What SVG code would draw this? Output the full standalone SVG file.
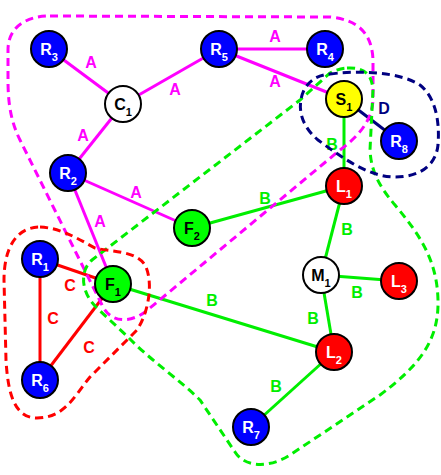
<svg xmlns="http://www.w3.org/2000/svg" width="441" height="475" viewBox="0 0 441 475">
  <style>
    text { font-family: "Liberation Sans", Arial, sans-serif; font-weight: bold; text-anchor: middle; }
    .lbl { font-size: 16px; }
    .sub { font-size: 11px; }
    .node circle { stroke: #000; stroke-width: 2; }
    .blue circle { fill: #0000ff; }
    .red circle { fill: #ff0000; }
    .green circle { fill: #00ff00; }
    .yellow circle { fill: #ffff00; }
    .white circle { fill: #ffffff; }
    .blue text, .red text { fill: #ffffff; }
    .green text, .yellow text, .white text { fill: #000000; }
    .edge { stroke-width: 3; fill: none; }
    .ea { stroke: #ff00ff; }
    .eb { stroke: #00ee00; }
    .ec { stroke: #ff0000; }
    .ed { stroke: #000080; }
    .hull { fill: none; stroke-width: 3; stroke-dasharray: 8 5; }
    .ta { fill: #ff00ff; }
    .tb { fill: #00ee00; }
    .tc { fill: #ff0000; }
    .td { fill: #000080; }
  </style>

  <!-- connectors -->
  <g id="connectors">
    <line class="edge ea" x1="49" y1="49" x2="123" y2="104"/>
    <line class="edge ea" x1="123" y1="104" x2="219" y2="49"/>
    <line class="edge ea" x1="123" y1="104" x2="68" y2="173"/>
    <line class="edge ea" x1="219" y1="49" x2="325" y2="49"/>
    <line class="edge ea" x1="219" y1="49" x2="344" y2="99"/>
    <line class="edge ea" x1="68" y1="173" x2="192" y2="228"/>
    <line class="edge ea" x1="68" y1="173" x2="113" y2="284"/>
    <line class="edge ed" x1="344" y1="99" x2="399" y2="141"/>
    <line class="edge eb" x1="344" y1="99" x2="344" y2="186"/>
    <line class="edge eb" x1="192" y1="228" x2="344" y2="186"/>
    <line class="edge eb" x1="344" y1="186" x2="321" y2="275"/>
    <line class="edge eb" x1="321" y1="275" x2="399" y2="281"/>
    <line class="edge eb" x1="321" y1="275" x2="334" y2="352"/>
    <line class="edge eb" x1="113" y1="284" x2="334" y2="352"/>
    <line class="edge eb" x1="334" y1="352" x2="251" y2="427"/>
    <line class="edge ec" x1="40" y1="259" x2="113" y2="284"/>
    <line class="edge ec" x1="40" y1="259" x2="40" y2="380"/>
    <line class="edge ec" x1="40" y1="380" x2="113" y2="284"/>

    <text class="lbl ta" x="91" y="67.5">A</text>
    <text class="lbl ta" x="175" y="95">A</text>
    <text class="lbl ta" x="83" y="141">A</text>
    <text class="lbl ta" x="275" y="42">A</text>
    <text class="lbl ta" x="275" y="87">A</text>
    <text class="lbl ta" x="136" y="197.5">A</text>
    <text class="lbl ta" x="100" y="226.5">A</text>
    <text class="lbl td" x="384" y="114">D</text>
    <text class="lbl tc" x="70" y="291">C</text>
    <text class="lbl tc" x="53" y="324">C</text>
    <text class="lbl tc" x="89" y="352.5">C</text>
    <text class="lbl tb" x="332" y="150">B</text>
    <text class="lbl tb" x="212" y="306">B</text>
    <text class="lbl tb" x="265" y="204">B</text>
    <text class="lbl tb" x="347" y="235">B</text>
    <text class="lbl tb" x="357" y="298">B</text>
    <text class="lbl tb" x="313" y="324">B</text>
    <text class="lbl tb" x="276" y="392">B</text>
  </g>

  <!-- dashed cluster outlines -->
  <g id="clusters">
    <path class="hull" stroke="#ff00ff" d="M 50,16 L 330,17 C 360,20 372,35 373,60 L 373,100 C 372,120 360,135 340,150 L 150,308 C 135,322 112,326 102,305 L 20,140 C 10,120 8,100 8,80 L 8,50 C 8,28 25,16 50,16 Z"/>
    <path class="hull" stroke="#00ee00" d="M 347,68 C 365,67 372,75 373,90 L 370,150 C 371,170 378,185 395,205 C 420,235 437,260 438,300 C 439,340 420,365 380,395 L 290,455 C 270,468 245,468 235,452 L 200,400 C 180,380 150,360 128,337 L 97,308 C 80,292 80,270 92,260 L 300,100 L 330,73 C 336,70 342,68 347,68 Z"/>
    <path class="hull" stroke="#000080" d="M 330,74 C 360,70 400,72 420,85 C 435,97 440,120 438,145 C 436,165 420,177 395,177 C 370,177 345,160 318,140 C 300,125 296,105 305,88 C 312,78 320,75 330,74 Z"/>
    <path class="hull" stroke="#ff0000" d="M 40,227 C 60,228 75,237 95,248 C 110,252 135,250 145,265 C 153,280 150,310 137,330 L 90,377 C 75,395 65,418 37,418 C 15,418 8,395 6,360 L 4,280 C 4,250 15,227 40,227 Z"/>
  </g>

  <!-- nodes -->
  <g id="R3" class="node blue"><circle cx="49" cy="49" r="18"/><text class="lbl" x="49" y="55">R<tspan class="sub" dy="6">3</tspan></text></g>
  <g id="C1" class="node white"><circle cx="123" cy="104" r="18"/><text class="lbl" x="123" y="110">C<tspan class="sub" dy="6">1</tspan></text></g>
  <g id="R5" class="node blue"><circle cx="219" cy="49" r="18"/><text class="lbl" x="219" y="55">R<tspan class="sub" dy="6">5</tspan></text></g>
  <g id="R4" class="node blue"><circle cx="325" cy="49" r="18"/><text class="lbl" x="325" y="55">R<tspan class="sub" dy="6">4</tspan></text></g>
  <g id="S1" class="node yellow"><circle cx="344" cy="99" r="18"/><text class="lbl" x="344" y="105">S<tspan class="sub" dy="6">1</tspan></text></g>
  <g id="R8" class="node blue"><circle cx="399" cy="141" r="18"/><text class="lbl" x="399" y="147">R<tspan class="sub" dy="6">8</tspan></text></g>
  <g id="R2" class="node blue"><circle cx="68" cy="173" r="18"/><text class="lbl" x="68" y="179">R<tspan class="sub" dy="6">2</tspan></text></g>
  <g id="F2" class="node green"><circle cx="192" cy="228" r="18"/><text class="lbl" x="192" y="234">F<tspan class="sub" dy="6">2</tspan></text></g>
  <g id="L1" class="node red"><circle cx="344" cy="186" r="18"/><text class="lbl" x="344" y="192">L<tspan class="sub" dy="6">1</tspan></text></g>
  <g id="R1" class="node blue"><circle cx="40" cy="259" r="18"/><text class="lbl" x="40" y="265">R<tspan class="sub" dy="6">1</tspan></text></g>
  <g id="F1" class="node green"><circle cx="113" cy="284" r="18"/><text class="lbl" x="113" y="290">F<tspan class="sub" dy="6">1</tspan></text></g>
  <g id="M1" class="node white"><circle cx="321" cy="275" r="18"/><text class="lbl" x="321" y="281">M<tspan class="sub" dy="6">1</tspan></text></g>
  <g id="L3" class="node red"><circle cx="399" cy="281" r="18"/><text class="lbl" x="399" y="287">L<tspan class="sub" dy="6">3</tspan></text></g>
  <g id="L2" class="node red"><circle cx="334" cy="352" r="18"/><text class="lbl" x="334" y="358">L<tspan class="sub" dy="6">2</tspan></text></g>
  <g id="R6" class="node blue"><circle cx="40" cy="380" r="18"/><text class="lbl" x="40" y="386">R<tspan class="sub" dy="6">6</tspan></text></g>
  <g id="R7" class="node blue"><circle cx="251" cy="427" r="18"/><text class="lbl" x="251" y="433">R<tspan class="sub" dy="6">7</tspan></text></g>
</svg>
